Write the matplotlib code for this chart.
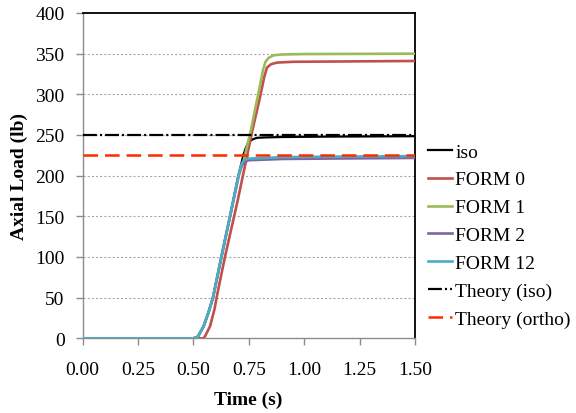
import numpy as np
import matplotlib
matplotlib.use("Agg")
import matplotlib.pyplot as plt

# values (time in s, load in lb)
t_iso = [0, 0.50, 0.52, 0.546, 0.568, 0.588, 0.626, 0.665, 0.703, 0.725, 0.735, 0.745, 0.757, 0.77, 0.787, 0.82, 0.90, 1.10, 1.50]
v_iso = [0, 0, 2, 15, 32, 50, 100, 150, 200, 225, 233, 239.5, 243, 245, 246.5, 247, 247.5, 248, 248.5]

t_form0 = [0, 0.546, 0.553, 0.575, 0.595, 0.608, 0.642, 0.70, 0.767, 0.80, 0.820, 0.832, 0.85, 0.877, 0.95, 1.50]
v_form0 = [0, 0, 3, 15, 36, 55, 100, 170, 257, 296, 322, 333, 337, 339, 340, 341]

t_form1 = [0, 0.50, 0.52, 0.546, 0.568, 0.588, 0.626, 0.665, 0.705, 0.728, 0.760, 0.792, 0.815, 0.825, 0.84, 0.862, 0.90, 1.0, 1.50]
v_form1 = [0, 0, 2, 15, 32, 50, 100, 150, 200, 220, 257, 300, 331, 340, 345, 348, 349, 349.5, 350]

t_form2 = [0, 0.50, 0.52, 0.546, 0.568, 0.588, 0.626, 0.665, 0.703, 0.715, 0.725, 0.735, 0.75, 0.80, 0.90, 1.10, 1.50]
v_form2 = [0, 0, 2, 15, 32, 50, 100, 150, 200, 211, 215, 217.5, 219, 219.5, 220.5, 221, 221.8]

t_form12 = [0, 0.50, 0.52, 0.546, 0.568, 0.588, 0.626, 0.665, 0.703, 0.715, 0.725, 0.735, 0.75, 0.80, 0.90, 1.10, 1.50]
v_form12 = [0, 0, 2, 15, 32, 50, 100, 150, 200, 213, 218, 220, 221, 221.5, 222.7, 223.3, 224]

theory_iso = 250
theory_ortho = 225

xticks = [0, 0.25, 0.5, 0.75, 1.0, 1.25, 1.5]
yticks = [0, 50, 100, 150, 200, 250, 300, 350, 400]

plt.rcParams['font.family'] = ['Liberation Serif', 'DejaVu Serif']
plt.rcParams['lines.scale_dashes'] = False

fig = plt.figure(figsize=(5.76, 4.14), dpi=100)
ax = fig.add_axes([0.1436, 0.1804, 0.5769, 0.7858])

# gridlines
for y in yticks[1:-1]:
    ax.axhline(y, color='#a6a6a6', lw=0.8, dashes=(1.5, 1.5), zorder=1)

ax.plot(t_iso, v_iso, color='black', lw=1.6, label='iso', zorder=2)
ax.plot(t_form0, v_form0, color='#c0504d', lw=1.9, label='FORM 0', zorder=3)
ax.plot(t_form1, v_form1, color='#9bbb59', lw=1.9, label='FORM 1', zorder=4)
ax.plot(t_form2, v_form2, color='#8064a2', lw=1.9, label='FORM 2', zorder=5)
ax.plot(t_form12, v_form12, color='#4bacc6', lw=1.9, label='FORM 12', zorder=6)
ax.plot([0, 1.5], [theory_iso, theory_iso], color='black', lw=1.6,
        dashes=(10, 2.2, 1.5, 2.2), label='Theory (iso)', zorder=7)
ax.plot([0, 1.5], [theory_ortho, theory_ortho], color='#ff2a00', lw=1.8,
        dashes=(10.5, 5), label='Theory (ortho)', zorder=7)

ax.set_xlim(0, 1.5)
ax.set_ylim(0, 400)
ax.set_xticks(xticks)
ax.set_xticklabels(['%.2f' % x for x in xticks])
ax.set_yticks(yticks)

for side in ['left', 'bottom']:
    ax.spines[side].set_color('#8c8c8c')
    ax.spines[side].set_linewidth(1.0)
for side in ['top', 'right']:
    ax.spines[side].set_color('black')
    ax.spines[side].set_linewidth(1.3)

ax.tick_params(axis='x', direction='out', length=5, width=1, color='#8c8c8c', pad=11, labelsize=14)
ax.tick_params(axis='y', direction='out', length=5, width=1, color='#8c8c8c', pad=8, labelsize=14)

ax.set_xlabel('Time (s)', fontsize=14, fontweight='bold', va='center')
ax.xaxis.set_label_coords(0.499, -0.187)
ax.set_ylabel('Axial Load (lb)', fontsize=14, fontweight='bold', va='center')
ax.yaxis.set_label_coords(-0.192, 0.499)

ax.legend(loc='center left', bbox_to_anchor=(0.743, 0.4287), bbox_transform=fig.transFigure,
          frameon=False, fontsize=14, borderpad=0, borderaxespad=0,
          handlelength=1.25, handletextpad=0.15, labelspacing=0.53)

fig.savefig('out.png', dpi=100)
